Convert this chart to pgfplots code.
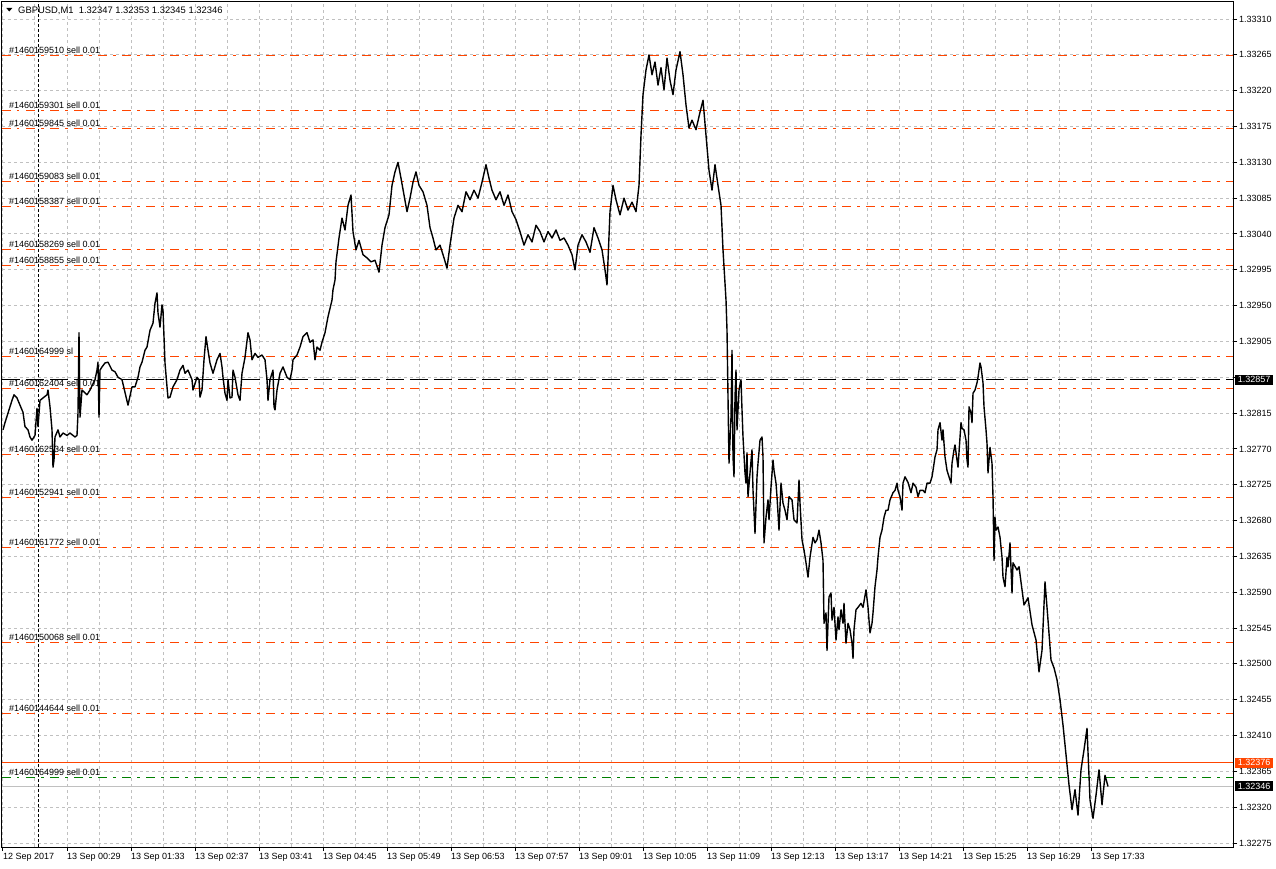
\documentclass[border=0pt]{standalone}
\usepackage{pgfplots}
\usepackage{pgfplotstable}
\pgfplotsset{compat=1.18}
\usepackage{fontspec}
\setmainfont{Liberation Sans}
\definecolor{ordline}{HTML}{FF4500}
\definecolor{gridgray}{HTML}{C0C0C0}
\definecolor{mtgreen}{HTML}{008000}

% minutes after 13 Sep 00:00 ; price in points above 1.32000
\pgfplotstableread{
m p
-35 794
-33 803
-30 815
-26 831
-24 838
-21 834
-18 825
-15 816
-13 798
-10 794
-8 785
-6 781
-3 787
-1 821
0 798
2 831
5 834
9 838
10 844
12 823
14 794
15 747
16 756
17 785
20 794
22 785
25 790
29 787
32 790
37 785
39 787
40 815
41 916
42 810
44 844
49 838
52 844
57 857
59 869
60 879
61 810
62 869
64 873
67 878
70 879
74 869
77 867
80 860
84 857
87 841
90 825
94 848
97 848
100 860
102 873
104 879
107 894
109 898
112 919
115 928
117 953
119 966
120 941
122 923
124 951
125 944
127 878
129 848
130 834
132 835
135 848
139 857
142 869
145 875
147 865
150 869
154 857
155 844
159 860
161 857
162 835
164 844
166 882
168 911
170 894
172 878
175 865
179 882
182 890
184 873
185 860
187 840
189 831
190 857
192 834
194 835
195 869
197 860
200 838
202 831
204 865
207 885
210 916
212 907
214 882
217 890
220 885
224 888
227 882
229 857
230 831
232 857
235 869
236 823
237 819
239 844
242 865
245 873
249 860
252 857
254 869
255 882
259 888
262 898
265 911
269 916
272 904
275 907
277 882
279 898
282 894
284 904
287 916
290 936
294 957
295 970
297 982
298 1005
301 1035
304 1060
307 1045
310 1076
313 1089
315 1043
318 1020
321 1032
325 1014
329 1010
333 1005
337 1007
341 992
344 1026
347 1048
351 1064
354 1101
357 1118
360 1130
363 1110
366 1089
369 1068
372 1085
375 1105
378 1118
381 1101
385 1093
389 1076
392 1048
395 1035
398 1020
402 1026
406 1010
409 997
412 1026
416 1060
420 1076
424 1068
428 1093
432 1083
436 1095
440 1085
444 1105
448 1127
451 1110
454 1095
458 1083
462 1093
466 1076
470 1089
474 1068
478 1058
482 1043
486 1026
490 1039
494 1030
498 1051
502 1043
506 1030
510 1043
514 1035
518 1045
522 1032
526 1035
530 1026
534 1014
537 995
540 1026
544 1039
548 1030
552 1017
556 1048
560 1035
564 1020
567 995
569 976
572 1068
575 1101
578 1083
582 1064
586 1085
590 1070
594 1080
598 1068
601 1101
603 1164
605 1215
608 1246
611 1265
614 1240
617 1256
620 1227
623 1249
626 1221
629 1261
632 1233
635 1215
638 1246
642 1269
645 1240
648 1202
651 1173
654 1183
658 1171
662 1193
665 1208
668 1164
671 1120
674 1095
677 1127
680 1101
683 1076
685 1020
688 957
689 919
690 835
691 752
693 810
694 894
695 760
696 735
697 835
698 869
699 794
701 844
703 857
704 819
705 785
707 740
708 727
709 765
710 710
712 740
714 769
715 718
717 664
719 735
720 752
722 781
724 785
725 760
726 652
728 684
730 706
731 681
733 722
735 756
736 743
738 727
739 710
741 668
743 727
745 702
747 693
749 681
751 710
754 706
756 681
759 677
761 731
762 702
764 656
766 643
768 627
770 609
772 634
775 659
777 652
779 656
781 668
783 652
785 630
786 551
788 564
789 517
791 584
793 589
794 555
796 571
798 530
800 559
801 543
803 568
805 551
806 576
808 526
810 551
812 543
814 526
815 507
816 543
818 568
820 571
823 576
825 571
828 593
830 571
832 539
834 551
835 564
837 597
839 618
840 634
842 659
844 668
846 684
848 693
850 693
852 706
855 715
857 718
859 727
860 718
862 710
864 693
865 727
867 735
870 728
873 715
875 727
878 722
880 710
882 718
885 718
887 715
889 727
892 727
894 735
895 743
897 760
899 769
900 794
902 803
904 781
905 794
907 760
909 743
911 735
913 727
914 752
916 769
917 775
919 756
920 747
923 803
924 796
926 794
928 781
929 756
930 747
931 823
933 815
934 803
935 840
937 844
939 853
940 860
942 878
943 873
945 853
946 823
948 794
949 777
950 740
952 772
954 752
955 710
956 630
957 684
958 668
960 672
962 659
964 634
965 609
967 597
969 634
970 622
972 652
974 589
975 627
979 618
981 622
986 574
990 583
994 549
998 530
1001 490
1004 517
1007 603
1010 555
1013 505
1016 495
1019 480
1022 455
1025 423
1028 386
1031 348
1034 317
1037 342
1040 310
1043 367
1046 392
1049 419
1052 329
1055 306
1058 335
1061 367
1064 323
1067 360
1070 346
}\gbpusd

\tikzset{
  ordlbl/.style={anchor=base west, inner sep=0pt, font=\fontsize{9}{10}\selectfont, yshift=2pt},
  ord/.style={ordline, line width=1pt, dash pattern=on 9pt off 6pt on 2.5pt off 6.5pt},
}

\begin{document}
\begin{tikzpicture}[x=1pt,y=1pt]
\useasboundingbox (0,0) rectangle (1276,868);
\begin{axis}[
  at={(2pt,21pt)}, anchor=south west,
  scale only axis, width=1231pt, height=845pt,
  xmin=-36, xmax=1195, ymin=270, ymax=1331.4,
  clip=false,
  axis line style={black, line width=1pt},
  xtick={-35,29,93,157,221,285,349,413,477,541,605,669,733,797,861,925,989,1053},
  xticklabels={12 Sep 2017,13 Sep 00:29,13 Sep 01:33,13 Sep 02:37,13 Sep 03:41,13 Sep 04:45,13 Sep 05:49,13 Sep 06:53,13 Sep 07:57,13 Sep 09:01,13 Sep 10:05,13 Sep 11:09,13 Sep 12:13,13 Sep 13:17,13 Sep 14:21,13 Sep 15:25,13 Sep 16:29,13 Sep 17:33},
  minor x tick num=1,
  ytick={275,320,365,410,455,500,545,590,635,680,725,770,815,860,905,950,995,1040,1085,1130,1175,1220,1265,1310},
  yticklabels={1.32275,1.32320,1.32365,1.32410,1.32455,1.32500,1.32545,1.32590,1.32635,1.32680,1.32725,1.32770,1.32815,,1.32905,1.32950,1.32995,1.33040,1.33085,1.33130,1.33175,1.33220,1.33265,1.33310},
  xtick pos=left, ytick pos=right, yticklabel pos=right,
  tick align=outside, major tick length=4pt, minor tick length=0pt,
  tick style={black, line width=1pt},
  xmajorgrids, xminorgrids, ymajorgrids,
  major grid style={gridgray, line width=1pt, dash pattern=on 3pt off 3pt},
  minor grid style={gridgray, line width=1pt, dash pattern=on 3pt off 3pt},
  ticklabel style={font=\fontsize{9}{10}\selectfont, inner sep=0pt},
  xticklabel style={anchor=north west, yshift=-2pt},
  yticklabel style={anchor=west, xshift=2pt},
]
% order labels
\node[ordlbl] at (axis cs:-29,1263.6) {\#1460159510 sell 0.01};
\node[ordlbl] at (axis cs:-29,1194.5) {\#1460159301 sell 0.01};
\node[ordlbl] at (axis cs:-29,1173.1) {\#1460159845 sell 0.01};
\node[ordlbl] at (axis cs:-29,1105.3) {\#1460159083 sell 0.01};
\node[ordlbl] at (axis cs:-29,1075.1) {\#1460158387 sell 0.01};
\node[ordlbl] at (axis cs:-29,1021.1) {\#1460158269 sell 0.01};
\node[ordlbl] at (axis cs:-29,1001.0) {\#1460158855 sell 0.01};
\node[ordlbl] at (axis cs:-29,885.5) {\#1460164999 sl};
\node[ordlbl] at (axis cs:-29,846.5) {\#1460162404 sell 0.01};
\node[ordlbl] at (axis cs:-29,763.6) {\#1460162534 sell 0.01};
\node[ordlbl] at (axis cs:-29,708.4) {\#1460152941 sell 0.01};
\node[ordlbl] at (axis cs:-29,646.8) {\#1460161772 sell 0.01};
\node[ordlbl] at (axis cs:-29,527.5) {\#1460150068 sell 0.01};
\node[ordlbl] at (axis cs:-29,438.3) {\#1460144644 sell 0.01};
\node[ordlbl] at (axis cs:-29,357.9) {\#1460164999 sell 0.01};
% order levels
\addplot[ord] coordinates {(-36,1263.6) (1195,1263.6)};
\addplot[ord] coordinates {(-36,1194.5) (1195,1194.5)};
\addplot[ord] coordinates {(-36,1173.1) (1195,1173.1)};
\addplot[ord] coordinates {(-36,1105.3) (1195,1105.3)};
\addplot[ord] coordinates {(-36,1075.1) (1195,1075.1)};
\addplot[ord] coordinates {(-36,1021.1) (1195,1021.1)};
\addplot[ord] coordinates {(-36,1001.0) (1195,1001.0)};
\addplot[ord] coordinates {(-36,885.5) (1195,885.5)};
\addplot[ord] coordinates {(-36,846.5) (1195,846.5)};
\addplot[ord] coordinates {(-36,763.6) (1195,763.6)};
\addplot[ord] coordinates {(-36,708.4) (1195,708.4)};
\addplot[ord] coordinates {(-36,646.8) (1195,646.8)};
\addplot[ord] coordinates {(-36,527.5) (1195,527.5)};
\addplot[ord] coordinates {(-36,438.3) (1195,438.3)};
\addplot[ord, mtgreen] coordinates {(-36,357.9) (1195,357.9)};
% horizontal line, ask and bid
\addplot[black, line width=1pt, dash pattern=on 18pt off 6pt] coordinates {(-36,857) (1195,857)};
\addplot[ordline, line width=1pt] coordinates {(-36,376) (1195,376)};
\addplot[gridgray, line width=1pt] coordinates {(-36,346) (1195,346)};
% day separator
\addplot[black, line width=1pt, dash pattern=on 3pt off 2pt] coordinates {(0,270) (0,1331.4)};
% price
\addplot[black, line width=1.4pt, line join=round] table[x=m, y=p] {\gbpusd};
\coordinate (hl) at (axis cs:1195,857);
\coordinate (ask) at (axis cs:1195,376);
\coordinate (bid) at (axis cs:1195,346);
\end{axis}
\begin{scope}[every node/.style={anchor=west, inner xsep=0pt, text width=38pt, align=center, minimum height=10pt, inner ysep=0pt, font=\fontsize{9}{10}\selectfont, text=white, xshift=2pt}]
\node[fill=black] at (hl) {1.32857};
\node[fill=ordline] at (ask) {1.32376};
\node[fill=black] at (bid) {1.32346};
\end{scope}
\fill (6.3,860) -- (12.3,860) -- (9.3,856.5) -- cycle;
\node[anchor=base west, inner sep=0pt, font=\fontsize{9.4}{10}\selectfont] at (18,854.7) {GBPUSD,M1\ \ 1.32347 1.32353 1.32345 1.32346};
\end{tikzpicture}
\end{document}
